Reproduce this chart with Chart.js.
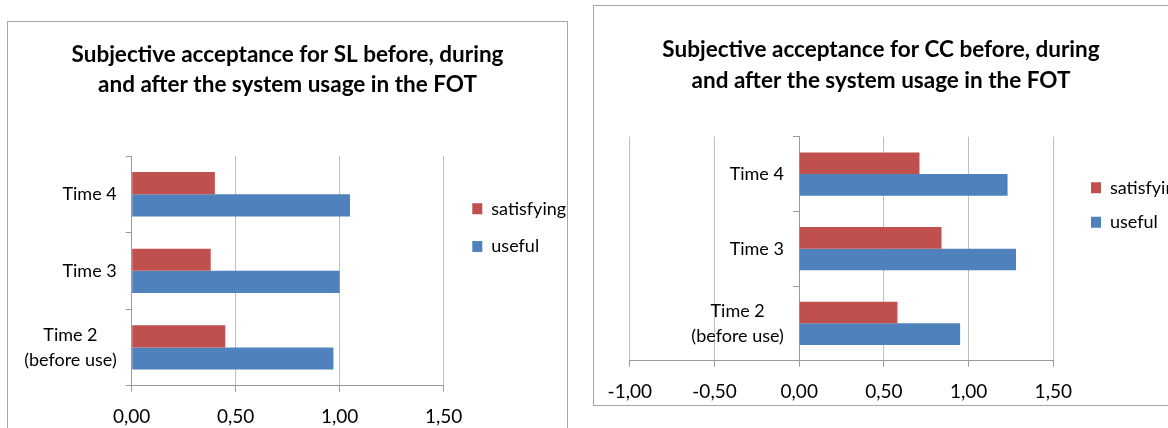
<!DOCTYPE html>
<html><head><meta charset="utf-8">
<script src="https://cdn.jsdelivr.net/npm/chart.js@4"></script>
<style>
html,body{margin:0;padding:0;width:1168px;height:428px;overflow:hidden;background:#fff}
.box{position:absolute;border:1px solid #a6a6a6;background:#fff;overflow:visible}
#b1{left:7px;top:21px;width:559px;height:420px}
#b2{left:593px;top:5px;width:640px;height:399px}
canvas{display:block}
</style></head><body>
<div class="box" id="b1"><canvas id="c1" width="559" height="420"></canvas></div>
<div class="box" id="b2"><canvas id="c2" width="574" height="412"></canvas></div>
<script>
// ---- data ----
const categories = [['Time 2', '(before use)'], 'Time 3', 'Time 4'];
const seriesNames = ['satisfying', 'useful'];
const slSatisfying = [0.45, 0.38, 0.40];
const slUseful = [0.97, 1.00, 1.05];
const ccSatisfying = [0.58, 0.84, 0.71];
const ccUseful = [0.95, 1.28, 1.23];
const slTickLabels = ['0,00', '0,50', '1,00', '1,50'];
const ccTickLabels = ['-1,00', '-0,50', '0,00', '0,50', '1,00', '1,50'];
const slTitle = ['Subjective acceptance for SL before, during', 'and after the system usage in the FOT'];
const ccTitle = ['Subjective acceptance for CC before, during', 'and after the system usage in the FOT'];

const FONT = 'Lato, "Open Sans", sans-serif';
const RED = '#C0504D', BLUE = '#4F81BD';
const AXIS = '#9a9a9a', GRID = '#bfbfbf';

function datasets(sat, use) {
  return [
    {label: seriesNames[0], data: sat, backgroundColor: RED, categoryPercentage: 0.58, barPercentage: 1},
    {label: seriesNames[1], data: use, backgroundColor: BLUE, categoryPercentage: 0.58, barPercentage: 1}
  ];
}

function legendOpts(padding, titleH, maxWidth) {
  return {
    position: 'right', align: 'start', fullSize: false, maxWidth: maxWidth,
    title: {display: true, text: '', padding: 0, font: {size: titleH, lineHeight: 1}},
    labels: {boxWidth: 10, boxHeight: 11, padding: padding, color: '#000', font: {family: FONT, size: 18}}
  };
}

// shift category labels horizontally and centre multi-line labels on their widest line
function labelAdjust(dx) {
  return s => {
    if (s.__adj) return;
    s.__adj = true;
    const orig = s._computeLabelItems;
    s._computeLabelItems = function (area) {
      const items = orig.call(this, area);
      const ctx = this.ctx;
      items.forEach(it => {
        it.options.translation[0] -= dx;
        if (Array.isArray(it.label)) {
          ctx.save();
          ctx.font = it.font.string;
          const w = Math.max(...it.label.map(l => ctx.measureText(l).width));
          ctx.restore();
          it.options.translation[0] -= w / 2;
          it.options.textAlign = 'center';
        }
      });
      return items;
    };
  };
}

function padAxis(pos, w) {
  return {type: 'linear', position: pos, display: true,
    ticks: {display: false}, grid: {display: false}, border: {display: false},
    afterFit: s => { s.width = w; }};
}

// ---- chart 1 (SL) ----
new Chart(document.getElementById('c1'), {
  type: 'bar',
  data: {labels: categories, datasets: datasets(slSatisfying, slUseful)},
  options: {
    indexAxis: 'y', responsive: false, animation: false, devicePixelRatio: 1,
    layout: {padding: {left: 0, right: 0, top: 0, bottom: 0.3}},
    plugins: {
      title: {display: true, text: slTitle, color: '#000',
        font: {family: FONT, size: 22.5, weight: 'bold', lineHeight: '30px'},
        padding: {top: 17.8, bottom: 56.2}},
      legend: legendOpts(19.7, 24.1, 114.4),
      tooltip: {enabled: false}
    },
    scales: {
      x: {type: 'linear', min: 0, max: 1.5,
        ticks: {stepSize: 0.5, padding: 13.6, color: '#000', font: {family: FONT, size: 19, lineHeight: 1.2},
          callback: (v, i) => slTickLabels[i]},
        grid: {color: GRID, tickLength: 6, tickColor: AXIS},
        border: {color: AXIS}},
      y: {type: 'category', reverse: true, offset: true,
        ticks: {padding: 9, color: '#000', font: {family: FONT, size: 18, lineHeight: '25px'}},
        grid: {offset: true, drawOnChartArea: false, tickLength: 6, color: AXIS},
        border: {color: AXIS},
        afterFit: s => { s.width = 123.7; },
        afterUpdate: labelAdjust(0)},
      yPad: padAxis('right', 9)
    }
  }
});

// ---- chart 2 (CC) ----
new Chart(document.getElementById('c2'), {
  type: 'bar',
  data: {labels: categories, datasets: datasets(ccSatisfying, ccUseful)},
  options: {
    indexAxis: 'y', responsive: false, animation: false, devicePixelRatio: 1,
    layout: {padding: {left: 0, right: 0, top: 0, bottom: 1.3}},
    plugins: {
      title: {display: true, text: ccTitle, color: '#000',
        font: {family: FONT, size: 22.5, weight: 'bold', lineHeight: '31px'},
        padding: {top: 28.3, bottom: 40.4}},
      legend: legendOpts(16.4, 25.7, 93.4),
      tooltip: {enabled: false}
    },
    scales: {
      x: {type: 'linear', min: -1, max: 1.5,
        ticks: {stepSize: 0.5, padding: 13.6, color: '#000', font: {family: FONT, size: 19, lineHeight: 1.2},
          callback: (v, i) => ccTickLabels[i]},
        grid: {color: GRID, tickLength: 6, tickColor: AXIS},
        border: {color: AXIS}},
      y: {type: 'category', reverse: true, offset: true, position: {x: 0},
        ticks: {color: '#000', font: {family: FONT, size: 18, lineHeight: '25px'}},
        grid: {offset: true, drawOnChartArea: false, tickLength: 6, color: AXIS},
        border: {color: AXIS},
        afterUpdate: labelAdjust(15.3)},
      yPadL: padAxis('left', 32.7),
      yPadR: padAxis('right', 21.3)
    }
  }
});
</script>
</body></html>
